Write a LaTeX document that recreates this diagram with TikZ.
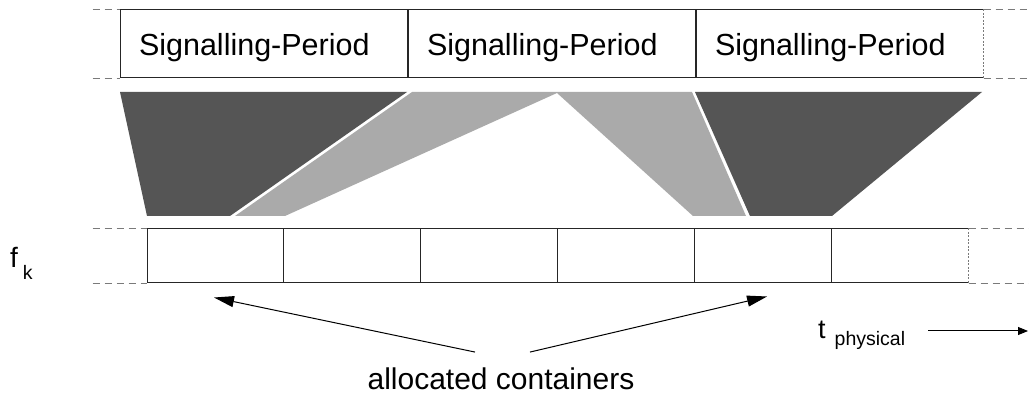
\documentclass[tikz,border=0pt]{standalone}
\usepackage{fontspec}
\setmainfont{Liberation Sans}
\usetikzlibrary{arrows.meta}
\definecolor{darkfill}{HTML}{555555}
\definecolor{lightfill}{HTML}{AAAAAA}
\definecolor{dashgray}{HTML}{7A7A7A}
\begin{document}
\begin{tikzpicture}[x=1pt,y=-1pt,
  spbox/.style={draw=black!85, line width=1pt, minimum height=68pt, text width=249pt,
    align=left, inner xsep=19pt, inner ysep=0pt, text depth=0pt,
    font=\fontsize{30.5}{36}\selectfont},
  cbox/.style={draw=black!85, line width=1pt, minimum width=136.833pt, minimum height=54pt, inner sep=0pt},
  guide/.style={dashgray, line width=1pt, dash pattern=on 7pt off 5pt},
  edge/.style={dashgray, line width=1pt, dash pattern=on 2pt off 1.5pt},
  conn/.style={black, line width=1pt, -{Triangle[length=20pt,width=11pt]}},
  tarrow/.style={black, line width=1pt, -{Triangle[length=10pt,width=8pt]}},
  bigtext/.style={font=\fontsize{30}{36}\selectfont}
]
\useasboundingbox (0,0) rectangle (1029,398);

% trapezoid mappings
\fill[darkfill] (120,92) -- (407,92) -- (230,216) -- (147,216) -- cycle;
\fill[lightfill] (235,216) -- (412,92) -- (692,92) -- (746,216) -- (693,216) -- (557,93) -- (285,216) -- cycle;
\fill[darkfill] (695,92) -- (982,92) -- (832,216) -- (750,216) -- cycle;

% signalling periods
\node[spbox] (sp1) at (263.5,44) {Signalling-Period};
\node[spbox, anchor=west] (sp2) at (sp1.east) {Signalling-Period};
\node[spbox, anchor=west] (sp3) at (sp2.east) {Signalling-Period};
\draw[white, line width=1.6pt] (sp3.north east) -- (sp3.south east);
\draw[edge] (sp3.north east) -- (sp3.south east);

\draw[guide] ([xshift=-27pt]sp1.north west) -- (sp1.north west);
\draw[guide] ([xshift=-27pt]sp1.south west) -- (sp1.south west);
\draw[guide] (sp3.north east) -- ++(50,0);
\draw[guide] (sp3.south east) -- ++(50,0);

% containers
\foreach \i in {1,...,6}
  \node[cbox] (c\i) at ({147+136.833*(\i-0.5)},256) {};
\draw[white, line width=1.6pt] (c6.north east) -- (c6.south east);
\draw[edge] (c6.north east) -- (c6.south east);

\draw[guide] ([xshift=-54pt]c1.north west) -- (c1.north west);
\draw[guide] ([xshift=-54pt]c1.south west) -- (c1.south west);
\draw[guide] (c6.north east) -- ++(62,0);
\draw[guide] (c6.south east) -- ++(62,0);

% labels
\node[anchor=base west, inner sep=0pt] (fk) at (10,268)
  {\fontsize{28}{30}\selectfont f\hspace{5pt}\raisebox{-12pt}{\fontsize{19.5}{22}\selectfont k}};

\node[bigtext, anchor=base, inner ysep=15pt] (alloc) at (501,389) {allocated containers};
\draw[conn] ([xshift=-26pt]alloc.north) -- ([xshift=-1.4pt,yshift=-14pt]c1.south);
\draw[conn] ([xshift=29pt]alloc.north) -- ([xshift=4.3pt,yshift=-13pt]c5.south);

\node[anchor=base west, inner sep=0pt] (tphys) at (818,338)
  {\fontsize{27}{30}\selectfont t\hspace{9pt}\raisebox{-7pt}{\fontsize{19.5}{22}\selectfont physical}};
\coordinate (tend) at (1028,331);
\draw[tarrow] ([xshift=23pt]tphys.east |- tend) -- (tend);
\end{tikzpicture}
\end{document}
